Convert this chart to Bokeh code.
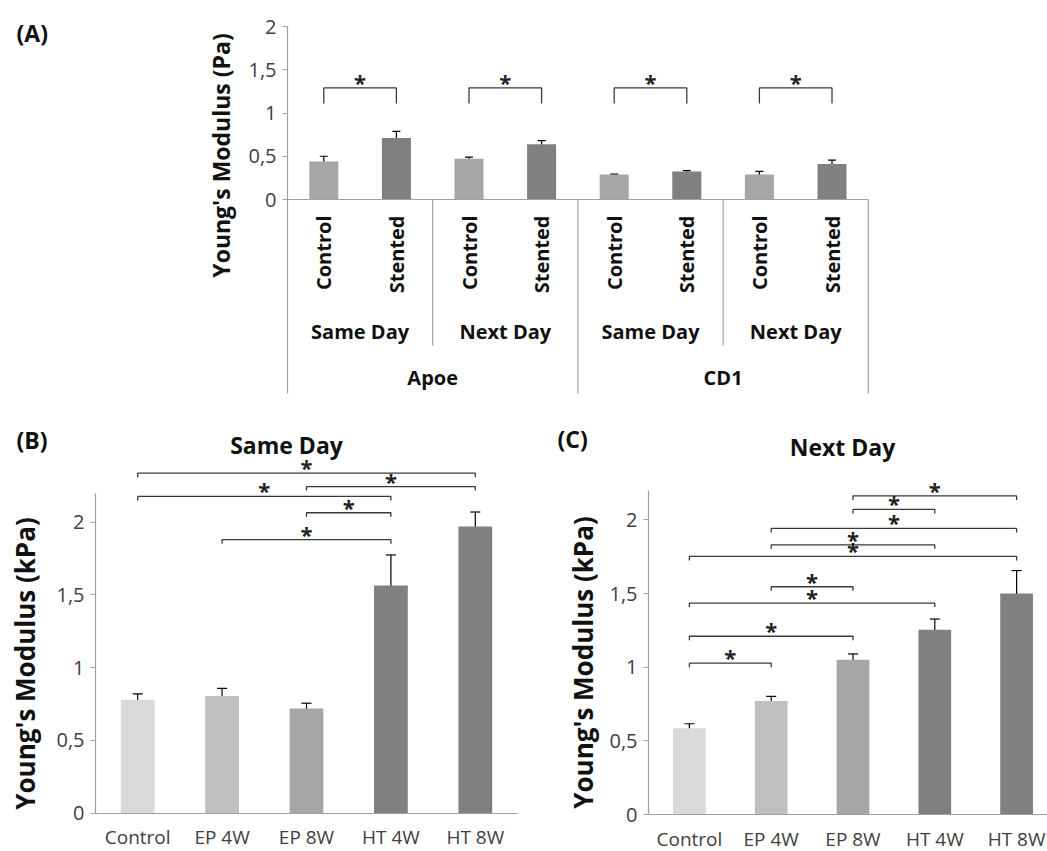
import math
from bokeh.plotting import figure
from bokeh.models import (Range1d, FixedTicker, Label, Whisker, TeeHead,
                          ColumnDataSource, CustomJSTickFormatter)
from bokeh.layouts import column, row
from bokeh.embed import file_html
from bokeh.resources import INLINE
from bokeh.core.properties import value

FONT = "Open Sans"
AXIS_COLOR = "#A0A0A0"
TICK_TEXT = "#404040"
DARK = "#111111"

# ---------------- Panel A data ----------------
a_mice = ["Apoe", "CD1"]
a_days = ["Same Day", "Next Day", "Same Day", "Next Day"]
a_conditions = ["Control", "Stented", "Control", "Stented",
                "Control", "Stented", "Control", "Stented"]
a_values = [0.44, 0.71, 0.47, 0.64, 0.29, 0.325, 0.29, 0.41]
a_errors = [0.06, 0.077, 0.02, 0.04, 0.005, 0.01, 0.036, 0.045]
a_colors = ["#A6A6A6", "#808080"] * 4
a_pair_from = [1, 3, 5, 7]
a_pair_to = [2, 4, 6, 8]
a_pair_y = [1.29, 1.29, 1.29, 1.29]

# ---------------- Panels B / C data ----------------
bc_categories = ["Control", "EP 4W", "EP 8W", "HT 4W", "HT 8W"]
bc_colors = ["#D9D9D9", "#BFBFBF", "#A6A6A6", "#808080", "#808080"]

b_title = "Same Day"
b_values = [0.78, 0.805, 0.72, 1.565, 1.97]
b_errors = [0.04, 0.053, 0.036, 0.21, 0.10]
b_pair_from = [1, 3, 1, 3, 2]
b_pair_to = [5, 5, 4, 4, 4]
b_pair_y = [2.337, 2.245, 2.177, 2.065, 1.88]

c_title = "Next Day"
c_values = [0.585, 0.77, 1.05, 1.255, 1.50]
c_errors = [0.031, 0.032, 0.04, 0.072, 0.156]
c_pair_from = [3, 3, 2, 2, 1, 2, 1, 1, 1]
c_pair_to = [5, 4, 5, 4, 5, 3, 4, 3, 2]
c_pair_y = [2.163, 2.071, 1.942, 1.831, 1.752, 1.546, 1.435, 1.21, 1.027]

comma_fmt = CustomJSTickFormatter(code="return tick.toString().replace('.', ',');")


class Mapper:
    """Maps page pixel positions to data coordinates for one figure."""

    def __init__(self, fx, fy, w, h, ax_px, ax_val, xppu, ay_px, ay_val, yppu):
        self.ax_px, self.ax_val, self.xppu = ax_px, ax_val, xppu
        self.ay_px, self.ay_val, self.yppu = ay_px, ay_val, yppu
        self.xr = (self.dx(fx), self.dx(fx + w))
        self.yr = (self.dy(fy + h), self.dy(fy))
        self.w, self.h = w, h

    def dx(self, px):
        return self.ax_val + (px - self.ax_px) / self.xppu

    def dy(self, py):
        return self.ay_val + (self.ay_px - py) / self.yppu


def base_fig(m):
    p = figure(width=m.w, height=m.h, x_range=Range1d(*m.xr), y_range=Range1d(*m.yr),
               output_backend="svg", toolbar_location=None,
               min_border_left=0, min_border_right=0,
               min_border_top=0, min_border_bottom=0)
    p.outline_line_color = None
    p.grid.visible = False
    p.background_fill_color = "white"
    p.border_fill_color = "white"
    return p


def style_yaxis(p, loc, bounds):
    ax = p.yaxis[0]
    ax.fixed_location = loc
    ax.ticker = FixedTicker(ticks=[0, 0.5, 1, 1.5, 2])
    ax.formatter = comma_fmt
    ax.bounds = bounds
    ax.axis_line_color = AXIS_COLOR
    ax.axis_line_width = 1.2
    ax.major_tick_line_color = AXIS_COLOR
    ax.major_tick_out = 5
    ax.major_tick_in = 0
    ax.minor_tick_line_color = None
    ax.major_label_text_font = FONT
    ax.major_label_text_font_size = "20px"
    ax.major_label_text_color = TICK_TEXT
    ax.major_label_standoff = 6


def add_brackets(p, frm, to, ys, leg, star_off):
    xs, yy = [], []
    for a, b, y in zip(frm, to, ys):
        xs.append([a, a, b, b])
        yy.append([y - leg, y, y, y - leg])
    p.multi_line(xs=xs, ys=yy, line_color="#3A3A3A", line_width=1.3)
    sx = [(a + b) / 2 for a, b in zip(frm, to)]
    sy = [y + star_off for y in ys]
    p.text(x=sx, y=sy, text=["*"] * len(sx), text_align="center",
           text_baseline="middle", text_font=value(FONT), text_font_style="bold",
           text_font_size="22px", text_color="#222222")


def add_bars_err(p, xs, vals, errs, colors, head):
    src = ColumnDataSource(dict(x=xs, top=vals, color=colors,
                                upper=[v + e for v, e in zip(vals, errs)],
                                lower=[v - e for v, e in zip(vals, errs)]))
    p.vbar(x="x", top="top", bottom=0, width=0.4, fill_color="color",
           line_color=None, source=src)
    w = Whisker(source=src, base="x", upper="upper", lower="lower",
                line_color="black", line_width=1.2,
                upper_head=TeeHead(size=head, line_color="black", line_width=1.2),
                lower_head=TeeHead(size=head, line_color="black", line_width=1.2))
    p.add_layout(w)


def label(p, x, y, text, size, align="center", angle=0.0):
    p.add_layout(Label(x=x, y=y, text=text, angle=angle, text_font=FONT,
                       text_font_style="bold", text_font_size=size,
                       text_align=align, text_baseline="middle", text_color=DARK))


# ================= Panel A =================
ma = Mapper(0, 0, 1047, 418, 287, 0.0, 72.6, 199, 0.0, 86.5)
pa = base_fig(ma)
pa.xaxis.visible = False
A_BOTTOM = ma.dy(393)
style_yaxis(pa, 0, (A_BOTTOM, 2))

a_x = [i + 0.5 for i in range(len(a_values))]
add_bars_err(pa, a_x, a_values, a_errors, a_colors, 8)
add_brackets(pa, [a_x[i - 1] for i in a_pair_from], [a_x[i - 1] for i in a_pair_to],
             a_pair_y, 15.6 / ma.yppu, 6.0 / ma.yppu)

inner_end = ma.dy(345)
pa.segment(x0=[0, 2, 4, 6, 8], y0=[0, 0, 0, 0, 0],
           x1=[8, 2, 4, 6, 8], y1=[0, inner_end, A_BOTTOM, inner_end, A_BOTTOM],
           line_color=AXIS_COLOR, line_width=1.2)
pa.text(x=a_x, y=[ma.dy(215)] * 8, text=a_conditions, angle=math.pi / 2,
        text_align="right", text_baseline="middle", text_font=value(FONT),
        text_font_style="bold", text_font_size="20px", text_color=DARK)
pa.text(x=[1, 3, 5, 7], y=[ma.dy(331)] * 4, text=a_days, text_align="center",
        text_baseline="middle", text_font=value(FONT), text_font_style="bold",
        text_font_size="20px", text_color=DARK)
pa.text(x=[2, 6], y=[ma.dy(377)] * 2, text=a_mice, text_align="center",
        text_baseline="middle", text_font=value(FONT), text_font_style="bold",
        text_font_size="20px", text_color=DARK)

label(pa, ma.dx(16), ma.dy(32), "(A)", "23px", align="left")
label(pa, ma.dx(220), ma.dy(155), "Young's Modulus (Pa)", "23px", angle=math.pi / 2)


# ================= Panels B and C =================
def bc_panel(m, xmax, vals, errs, pf, pt, py, title, letter,
             letter_px, title_px, ytitle_px):
    p = base_fig(m)
    style_yaxis(p, 0.5, (0, 2.2))
    xa = p.xaxis[0]
    xa.fixed_location = 0
    xa.bounds = (0.5, xmax)
    xa.ticker = FixedTicker(ticks=[1, 2, 3, 4, 5])
    xa.formatter = CustomJSTickFormatter(args=dict(labels=bc_categories),
                                         code="return labels[Math.round(tick) - 1];")
    xa.axis_line_color = AXIS_COLOR
    xa.axis_line_width = 1.2
    xa.major_tick_line_color = None
    xa.minor_tick_line_color = None
    xa.major_label_text_font = FONT
    xa.major_label_text_font_size = "19px"
    xa.major_label_text_color = TICK_TEXT
    xa.major_label_standoff = 5
    xs = [1, 2, 3, 4, 5]
    add_bars_err(p, xs, vals, errs, bc_colors, 10)
    add_brackets(p, pf, pt, py, 4.0 / m.yppu, 6.0 / m.yppu)

    label(p, m.dx(letter_px[0]), m.dy(letter_px[1]), letter, "23px", align="left")
    label(p, m.dx(title_px[0]), m.dy(title_px[1]), title, "23px")
    label(p, m.dx(ytitle_px[0]), m.dy(ytitle_px[1]), "Young's Modulus (kPa)", "26px",
          angle=math.pi / 2)
    return p


mb = Mapper(0, 418, 538, 433, 95, 0.5, 84.4, 812.7, 0.0, 145.5)
pb = bc_panel(mb, 5.5, b_values, b_errors, b_pair_from, b_pair_to, b_pair_y,
              b_title, "(B)", (16, 439), (286, 444), (24, 663))

mc = Mapper(538, 418, 509, 433, 648, 0.5, 81.8, 814, 0.0, 147.3)
pc = bc_panel(mc, mc.xr[1], c_values, c_errors, c_pair_from, c_pair_to, c_pair_y,
              c_title, "(C)", (557, 438), (842, 446), (582, 662))

layout = column(pa, row(pb, pc))
open("out.html", "w").write(file_html(layout, INLINE))
